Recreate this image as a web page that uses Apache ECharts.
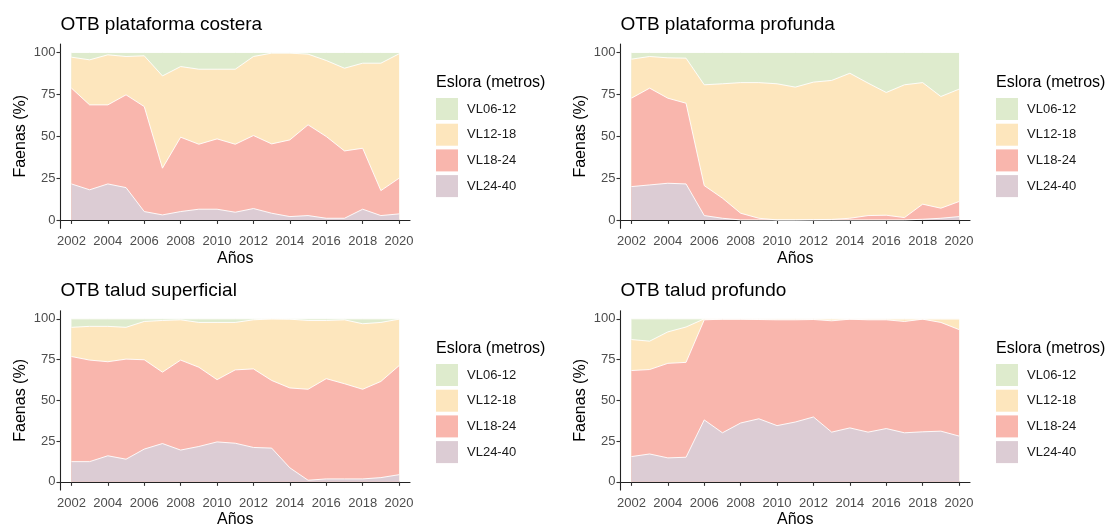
<!DOCTYPE html>
<html>
<head>
<meta charset="utf-8">
<script src="https://cdn.jsdelivr.net/npm/echarts@6/dist/echarts.min.js"></script>
<style>
  html, body { margin: 0; padding: 0; background: #fff; }
  #chart { width: 1107px; height: 529px; }
</style>
</head>
<body>
<div id="chart"></div>
<script>
// Share of fishing trips (%) by vessel length class, 2002-2020
const years = [2002, 2003, 2004, 2005, 2006, 2007, 2008, 2009, 2010, 2011,
               2012, 2013, 2014, 2015, 2016, 2017, 2018, 2019, 2020];
const xTicks = [2002, 2004, 2006, 2008, 2010, 2012, 2014, 2016, 2018, 2020];
const yTicks = [0, 25, 50, 75, 100];
const classes = ['VL06-12', 'VL12-18', 'VL18-24', 'VL24-40'];
const panelTitles = ['OTB plataforma costera', 'OTB plataforma profunda',
                     'OTB talud superficial', 'OTB talud profundo'];

// OTB plataforma costera
const costera0612 = [2.8, 4.4, 1.4, 2.4, 2.0, 14.0, 8.4, 10.0, 10.0, 10.0, 2.4, 0.4, 0.4, 1.0, 4.8, 9.4, 6.4, 6.4, 0.8];
const costera1218 = [18.5, 26.9, 29.9, 22.9, 30.3, 55.1, 42.2, 44.8, 41.6, 44.8, 47.2, 54.2, 51.8, 42.2, 45.4, 49.4, 50.8, 76.1, 74.3];
const costera1824 = [57.2, 50.7, 47.2, 55.4, 62.7, 27.9, 44.4, 38.8, 42.0, 40.6, 43.6, 41.4, 45.8, 54.2, 48.8, 40.2, 36.4, 14.9, 21.3];
const costera2440 = [21.5, 18.0, 21.5, 19.3, 5.0, 3.0, 5.0, 6.4, 6.4, 4.6, 6.8, 4.0, 2.0, 2.6, 1.0, 1.0, 6.4, 2.6, 3.6];

// OTB plataforma profunda
const profunda0612 = [4.0, 2.4, 3.2, 3.4, 19.3, 18.7, 18.0, 18.0, 18.7, 20.7, 17.7, 16.7, 12.4, 18.3, 23.9, 19.3, 18.0, 26.3, 21.9];
const profunda1218 = [23.3, 18.9, 24.1, 26.9, 60.2, 68.3, 78.0, 81.0, 81.3, 79.3, 82.1, 83.0, 86.6, 79.1, 73.3, 79.3, 72.6, 66.7, 67.1];
const profunda1824 = [52.8, 57.8, 50.8, 48.2, 17.9, 12.0, 4.0, 1.0, 0.0, 0.0, 0.2, 0.3, 1.0, 2.6, 2.8, 1.4, 9.0, 6.0, 9.0];
const profunda2440 = [19.9, 20.9, 21.9, 21.5, 2.6, 1.0, 0.0, 0.0, 0.0, 0.0, 0.0, 0.0, 0.0, 0.0, 0.0, 0.0, 0.4, 1.0, 2.0];

// OTB talud superficial
const superficial0612 = [5.2, 4.6, 4.6, 5.2, 1.6, 1.0, 0.6, 2.2, 2.2, 2.2, 0.6, 0.0, 0.2, 1.0, 1.0, 0.6, 3.0, 2.2, 0.2];
const superficial1218 = [17.9, 20.7, 21.7, 19.5, 23.5, 31.7, 24.7, 27.5, 35.1, 29.1, 30.1, 37.8, 42.2, 42.2, 35.7, 39.2, 40.2, 36.2, 28.5];
const superficial1824 = [64.5, 62.3, 57.7, 61.4, 54.8, 43.8, 55.2, 48.6, 38.2, 45.0, 48.2, 41.5, 49.0, 55.8, 61.5, 58.4, 55.0, 59.0, 66.9];
const superficial2440 = [12.4, 12.4, 16.0, 13.9, 20.1, 23.5, 19.5, 21.7, 24.5, 23.7, 21.1, 20.7, 8.6, 1.0, 1.8, 1.8, 1.8, 2.6, 4.4];

// OTB talud profundo
const taludProf0612 = [12.7, 13.7, 8.0, 5.0, 0, 0, 0, 0, 0, 0, 0, 0, 0, 0, 0, 0, 0, 0, 0];
const taludProf1218 = [19.0, 17.4, 19.3, 21.7, 0.6, 0.2, 0.2, 0.4, 0.6, 0.6, 0.4, 1.2, 0.2, 0.6, 0.6, 1.6, 0.2, 2.2, 6.6];
const taludProf1824 = [52.8, 51.8, 58.0, 58.2, 61.4, 69.7, 63.7, 60.9, 64.9, 62.7, 59.8, 68.3, 66.7, 68.9, 66.7, 68.3, 69.1, 66.7, 65.3];
const taludProf2440 = [15.5, 17.1, 14.7, 15.1, 38.0, 30.1, 36.1, 38.7, 34.5, 36.7, 39.8, 30.5, 33.1, 30.5, 32.7, 30.1, 30.7, 31.1, 28.1];

// per panel, classes listed from the base of the stack upwards
const panels = [
  [costera2440, costera1824, costera1218, costera0612],
  [profunda2440, profunda1824, profunda1218, profunda0612],
  [superficial2440, superficial1824, superficial1218, superficial0612],
  [taludProf2440, taludProf1824, taludProf1218, taludProf0612]
];
const stackNames = ['VL24-40', 'VL18-24', 'VL12-18', 'VL06-12'];

const colors = {
  'VL06-12': '#deebcd',
  'VL12-18': '#fde6bd',
  'VL18-24': '#f9b6ad',
  'VL24-40': '#dcccd4'
};

const FONT = '"Liberation Sans", Arial, sans-serif';

// plot-area boxes (axis lines at left/bottom)
const boxes = [
  { left: 60.5, top: 44.1, width: 349.5, height: 184.2 },
  { left: 620.5, top: 44.1, width: 349.5, height: 184.2 },
  { left: 60.5, top: 310.7, width: 349.5, height: 182.6 },
  { left: 620.5, top: 310.7, width: 349.5, height: 182.6 }
];
const legendPos = [
  { left: 436, top: 98 },
  { left: 996, top: 98 },
  { left: 436, top: 364 },
  { left: 996, top: 364 }
];

const grids = [], xAxes = [], yAxes = [], series = [], legends = [], titles = [];

boxes.forEach((b, i) => {
  grids.push({ left: b.left, top: b.top, width: b.width, height: b.height, containLabel: false });

  xAxes.push({
    gridIndex: i, type: 'value', min: 2001.4, max: 2020.6,
    name: 'Años', nameLocation: 'middle', nameGap: 22,
    nameTextStyle: { fontFamily: FONT, fontSize: 16, color: '#000' },
    axisLine: { show: true, lineStyle: { color: '#222', width: 1.1 } },
    axisTick: { show: true, length: 4, customValues: xTicks, lineStyle: { color: '#333', width: 1.1 } },
    axisLabel: {
      customValues: xTicks, margin: 7, fontFamily: FONT, fontSize: 13, color: '#4d4d4d',
      formatter: v => String(v)
    },
    splitLine: { show: false }
  });

  yAxes.push({
    gridIndex: i, type: 'value', min: -5, max: 105,
    name: 'Faenas (%)', nameLocation: 'middle', nameGap: 32, nameRotate: 90,
    nameTextStyle: { fontFamily: FONT, fontSize: 16, color: '#000' },
    axisLine: { show: true, lineStyle: { color: '#222', width: 1.1 } },
    axisTick: { show: true, length: 4, customValues: yTicks, lineStyle: { color: '#333', width: 1.1 } },
    axisLabel: { customValues: yTicks, margin: 5, fontFamily: FONT, fontSize: 13, color: '#4d4d4d' },
    splitLine: { show: false }
  });

  // running totals: each band is painted from 0 up to its cumulative top,
  // the upper bands first so the lower ones sit over them
  const cum = [];
  panels[i].forEach((arr, s) => {
    cum.push(arr.map((v, k) => (s ? cum[s - 1][k] : 0) + v));
  });
  for (let s = stackNames.length - 1; s >= 0; s--) {
    const name = stackNames[s];
    series.push({
      name: name, type: 'line', xAxisIndex: i, yAxisIndex: i,
      symbol: 'none', smooth: false,
      data: years.map((y, k) => [y, cum[s][k]]),
      lineStyle: { color: '#ffffff', width: 0.9 },
      itemStyle: { color: colors[name] },
      areaStyle: { color: colors[name], opacity: 1, origin: 'auto' },
      emphasis: { disabled: true },
      z: 2
    });
  }

  legends.push({
    orient: 'vertical', left: legendPos[i].left, top: legendPos[i].top,
    data: classes, icon: 'rect', itemWidth: 22, itemHeight: 22, itemGap: 3.7,
    selectedMode: false, padding: 0,
    textStyle: { fontFamily: FONT, fontSize: 13, color: '#1a1a1a', padding: [0, 0, 0, 4] },
    itemStyle: { borderWidth: 0 }
  });

  titles.push({
    text: panelTitles[i], left: b.left, top: i < 2 ? 15 : 281, padding: 0,
    textStyle: { fontFamily: FONT, fontSize: 19, fontWeight: 'normal', color: '#000' }
  });
  titles.push({
    text: 'Eslora (metros)', left: legendPos[i].left, top: legendPos[i].top - 23, padding: 0,
    textStyle: { fontFamily: FONT, fontSize: 16, fontWeight: 'normal', color: '#000' }
  });
});

const chart = echarts.init(document.getElementById('chart'), null, { renderer: 'canvas' });
chart.setOption({
  animation: false,
  backgroundColor: '#ffffff',
  title: titles,
  legend: legends,
  grid: grids,
  xAxis: xAxes,
  yAxis: yAxes,
  series: series
});
</script>
</body>
</html>
